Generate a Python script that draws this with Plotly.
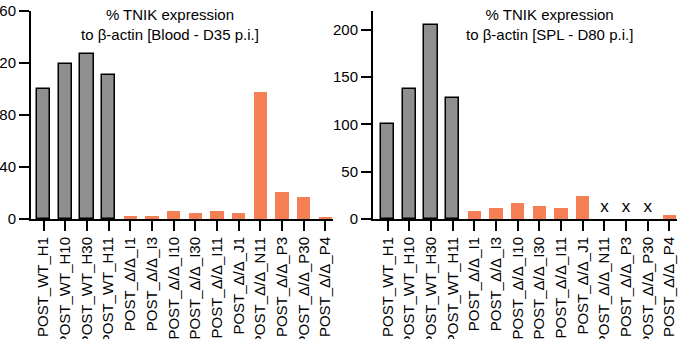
import plotly.graph_objects as go

categories = ["POST_WT_H1", "POST_WT_H10", "POST_WT_H30", "POST_WT_H11",
              "POST_Δ/Δ_I1", "POST_Δ/Δ_I3", "POST_Δ/Δ_I10", "POST_Δ/Δ_I30",
              "POST_Δ/Δ_I11", "POST_Δ/Δ_J1", "POST_Δ/Δ_N11", "POST_Δ/Δ_P3",
              "POST_Δ/Δ_P30", "POST_Δ/Δ_P4"]
groups = ["WT"] * 4 + ["KO"] * 10

blood_values = [100, 119, 127, 111, 2.2, 2.2, 6.5, 4.3, 6, 4.3, 98, 20.5, 17, 1]
spl_values = [100, 138, 205, 128, 8.5, 11.5, 17, 13.7, 11.5, 24.5, None, None, None, 4]
spl_marks = ["", "", "", "", "", "", "", "", "", "", "x", "x", "x", ""]
spl_mark_y = 12

blood_ticks = [0, 40, 80, 120, 160]
spl_ticks = [0, 50, 100, 150, 200]

titles = ["% TNIK expression<br>to β-actin [Blood - D35 p.i.]",
          "% TNIK expression<br>to β-actin [SPL - D80 p.i.]"]

GRAY = "#8f8f8f"
ORANGE = "#f47f54"
colors = [GRAY if g == "WT" else ORANGE for g in groups]
line_w = [1.5 if g == "WT" else 0 for g in groups]
FONT = "Arial, Liberation Sans, Helvetica, sans-serif"

xs = list(range(len(categories)))
fig = go.Figure()
fig.add_trace(go.Bar(x=xs, y=blood_values,
                     marker=dict(color=colors, line=dict(color="black", width=line_w)),
                     width=0.62, xaxis="x", yaxis="y", showlegend=False))
fig.add_trace(go.Bar(x=xs, y=spl_values,
                     marker=dict(color=colors, line=dict(color="black", width=line_w)),
                     width=0.62, xaxis="x2", yaxis="y2", showlegend=False))
mark_x = [i for i, m in enumerate(spl_marks) if m]
fig.add_trace(go.Scatter(x=mark_x, y=[spl_mark_y] * len(mark_x),
                         text=[spl_marks[i] for i in mark_x], mode="text",
                         textfont=dict(size=17, color="black", family=FONT),
                         xaxis="x2", yaxis="y2", showlegend=False))

W, H = 687, 339
L1, R1 = 31, 333
L2, R2 = 373, 677
TOP, BOT = 11, 219

xcommon = dict(tickmode="array", tickvals=xs, ticktext=categories,
               tickangle=-90, ticks="outside", ticklen=10, tickwidth=2, tickcolor="black",
               showline=True, linewidth=2, linecolor="black", showgrid=False, zeroline=False,
               tickfont=dict(size=15, color="black", family=FONT), automargin=False,
               fixedrange=True)
ycommon = dict(ticks="outside", ticklen=10, tickwidth=2, tickcolor="black",
               showline=True, linewidth=2, linecolor="black", showgrid=False, zeroline=False,
               tickfont=dict(size=15, color="black", family=FONT), automargin=False)

title_y = (BOT - 24) / (BOT - TOP)
fig.update_layout(
    width=W, height=H,
    margin=dict(l=0, r=0, t=TOP, b=H - BOT, pad=0),
    paper_bgcolor="white", plot_bgcolor="white",
    bargap=0,
    xaxis=dict(xcommon, domain=[L1 / W, R1 / W], range=[-0.58, 13.35], anchor="y"),
    yaxis=dict(ycommon, range=[0, 160], tickvals=blood_ticks, anchor="x"),
    xaxis2=dict(xcommon, domain=[L2 / W, R2 / W], range=[-0.68, 13.35], anchor="y2"),
    yaxis2=dict(ycommon, range=[0, 220], tickvals=spl_ticks, anchor="x2"),
    annotations=[
        dict(text=titles[0], x=170 / W, y=title_y, xref="paper", yref="paper",
             yanchor="middle", xanchor="center", showarrow=False,
             font=dict(size=15, color="black", family=FONT)),
        dict(text=titles[1], x=549 / W, y=title_y, xref="paper", yref="paper",
             yanchor="middle", xanchor="center", showarrow=False,
             font=dict(size=15, color="black", family=FONT)),
    ],
)

fig.write_html("out.html", config={"displayModeBar": False},
               post_script="document.body.style.margin='0';")
